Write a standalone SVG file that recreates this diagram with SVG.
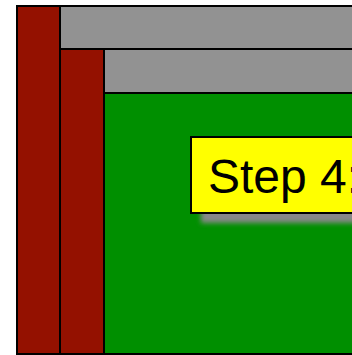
<svg xmlns="http://www.w3.org/2000/svg" width="352" height="355" viewBox="0 0 352 355">
<style>
.red{fill:#941100;stroke:#000;stroke-width:2}
.gray{fill:#929292;stroke:#000;stroke-width:2}
.green{fill:#008F00;stroke:#000;stroke-width:2}
.label{fill:#FFFF00;stroke:#000;stroke-width:2}
.t{font-family:"Liberation Sans",Arial,sans-serif;font-size:48px;fill:#000}
</style>
<defs>
<filter id="sh" x="-20%" y="-50%" width="140%" height="200%">
<feGaussianBlur stdDeviation="2.5"/>
</filter>
</defs>
<rect width="352" height="355" fill="#fff"/>
<g id="bar1"><rect class="gray" x="60" y="6" width="300" height="43"/></g>
<g id="col1"><rect class="red" x="17" y="6" width="43" height="348"/></g>
<g id="bar2"><rect class="gray" x="104" y="49" width="260" height="44"/></g>
<g id="col2"><rect class="red" x="60" y="49" width="44" height="305"/></g>
<g id="area"><rect class="green" x="104" y="93" width="260" height="261"/></g>
<g id="step4">
<rect x="201" y="147" width="200" height="76" fill="#888" filter="url(#sh)"/>
<rect class="label" x="191" y="137" width="200" height="76"/>
<text class="t" x="208" y="193">Step 4:</text>
</g>
<g id="connectors"></g>
</svg>
